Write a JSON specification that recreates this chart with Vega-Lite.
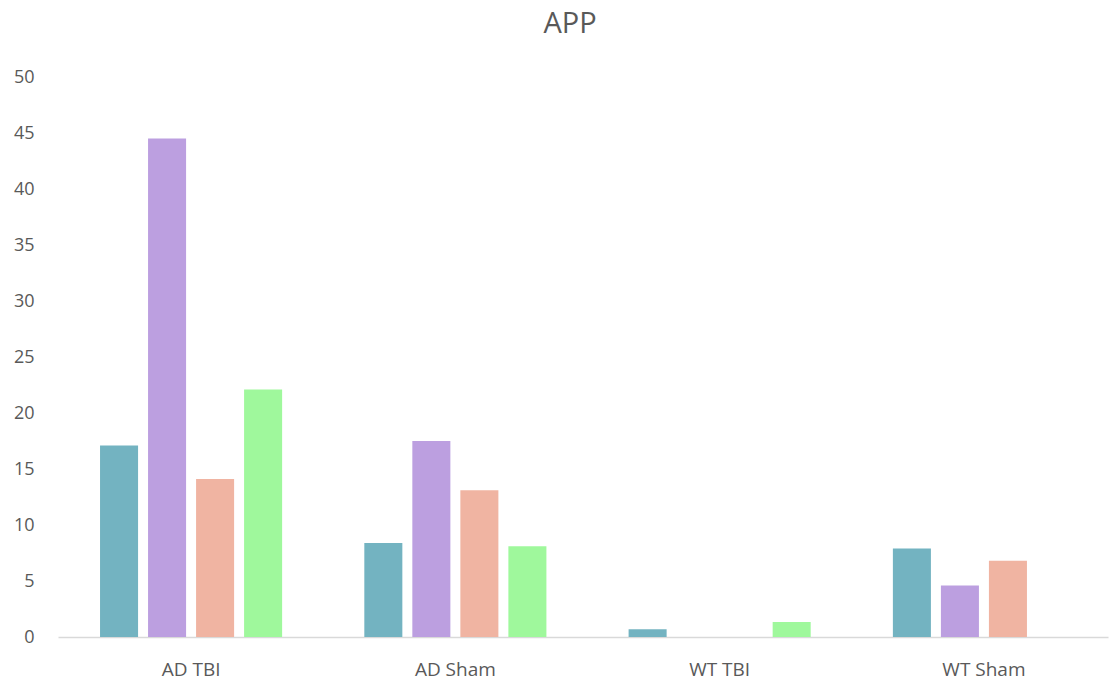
{
  "$schema": "https://vega.github.io/schema/vega-lite/v6.json",
  "width": 1050,
  "height": 560,
  "autosize": {"type": "none"},
  "padding": {"left": 58, "top": 77, "right": 1, "bottom": 47},
  "background": "white",
  "title": {"text": "APP", "fontSize": 29, "font": "Open Sans", "fontWeight": "normal", "color": "#595959", "offset": 29, "anchor": "middle", "dx": -13},
  "config": {"view": {"stroke": null}},
  "data": {"values": [
    {"group": "AD TBI", "series": "S1", "value": 17.1},
    {"group": "AD TBI", "series": "S2", "value": 44.5},
    {"group": "AD TBI", "series": "S3", "value": 14.1},
    {"group": "AD TBI", "series": "S4", "value": 22.1},
    {"group": "AD Sham", "series": "S1", "value": 8.4},
    {"group": "AD Sham", "series": "S2", "value": 17.5},
    {"group": "AD Sham", "series": "S3", "value": 13.1},
    {"group": "AD Sham", "series": "S4", "value": 8.1},
    {"group": "WT TBI", "series": "S1", "value": 0.7},
    {"group": "WT TBI", "series": "S2", "value": 0},
    {"group": "WT TBI", "series": "S3", "value": 0},
    {"group": "WT TBI", "series": "S4", "value": 1.35},
    {"group": "WT Sham", "series": "S1", "value": 7.9},
    {"group": "WT Sham", "series": "S2", "value": 4.6},
    {"group": "WT Sham", "series": "S3", "value": 6.8},
    {"group": "WT Sham", "series": "S4", "value": 0}
  ]},
  "mark": {"type": "bar"},
  "encoding": {
    "x": {"field": "group", "type": "nominal", "sort": ["AD TBI", "AD Sham", "WT TBI", "WT Sham"],
      "scale": {"paddingInner": 0.311, "paddingOuter": 0.142, "align": 0.56},
      "axis": {"title": null, "labelAngle": 0, "ticks": false, "domainColor": "#d9d9d9", "domainWidth": 1.5, "labelFont": "Open Sans", "labelFontSize": 19, "labelColor": "#595959", "labelPadding": 23}},
    "xOffset": {"field": "series", "type": "nominal", "scale": {"paddingInner": 0.208, "paddingOuter": 0}},
    "y": {"field": "value", "type": "quantitative", "scale": {"domain": [0, 50]},
      "axis": {"title": null, "values": [0,5,10,15,20,25,30,35,40,45,50], "grid": false, "domain": false, "ticks": false, "labelFont": "Open Sans", "labelFontSize": 18, "labelColor": "#595959", "labelPadding": 24}},
    "color": {"field": "series", "type": "nominal", "legend": null,
      "scale": {"domain": ["S1", "S2", "S3", "S4"], "range": ["#73B3C1", "#BC9FE0", "#F0B4A2", "#9FF89C"]}}
  }
}
